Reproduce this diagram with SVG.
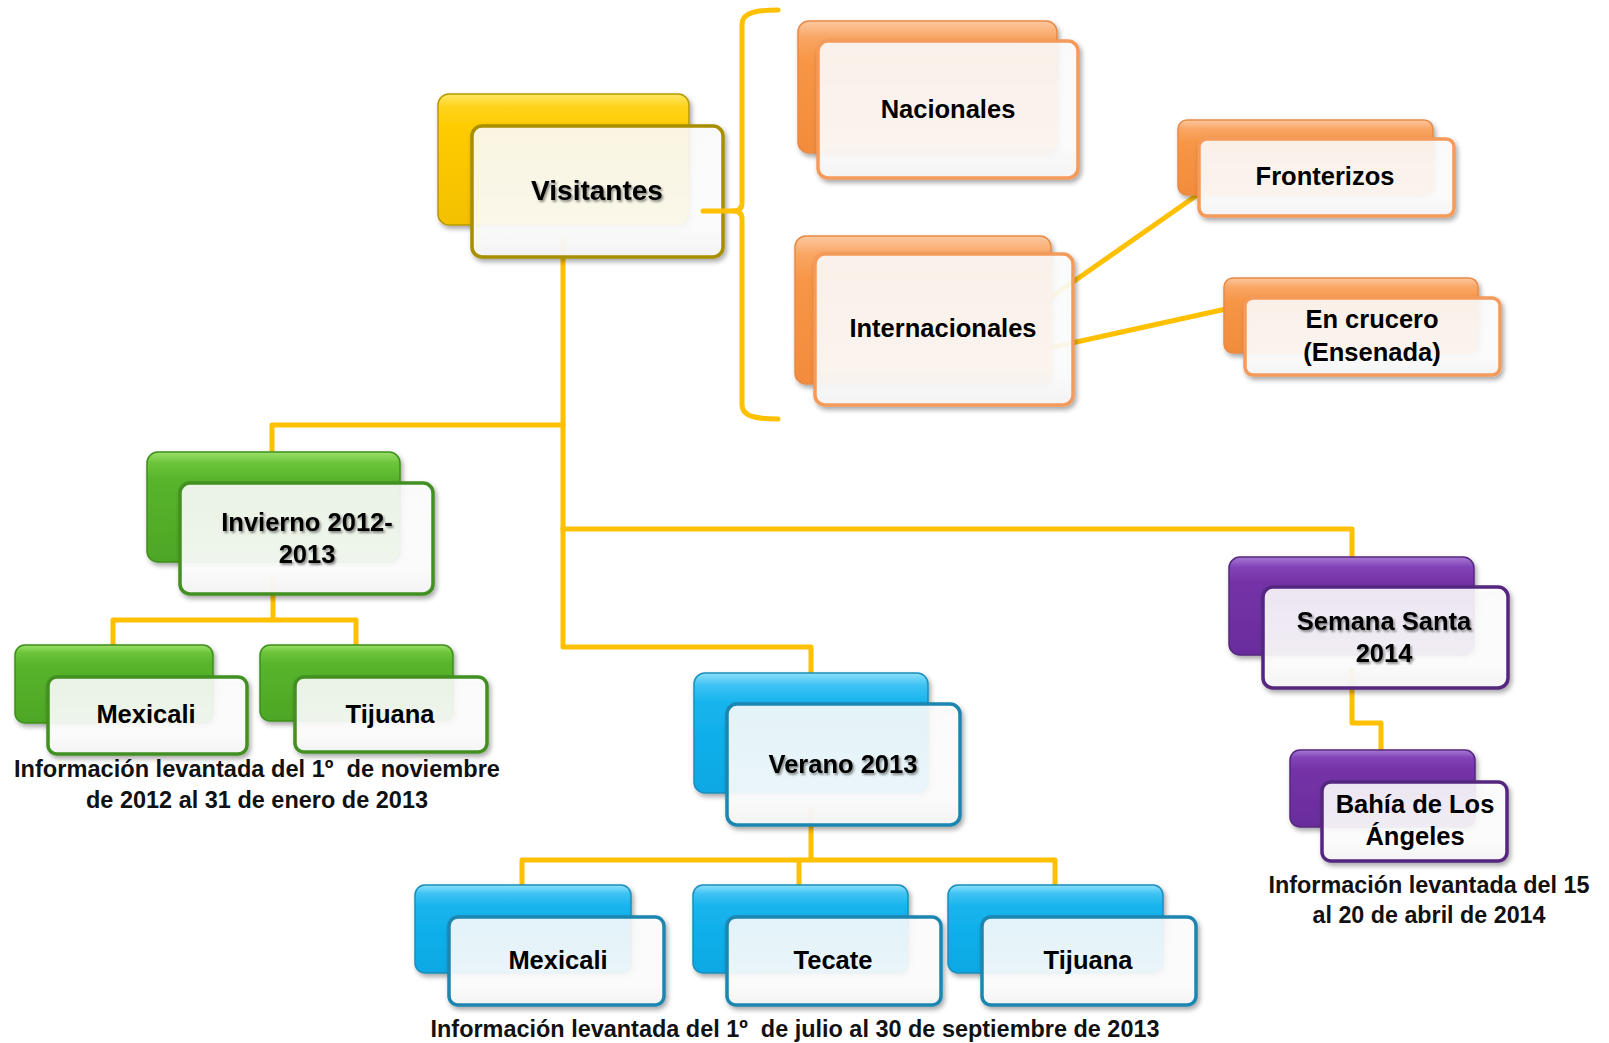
<svg xmlns="http://www.w3.org/2000/svg" width="1609" height="1043" viewBox="0 0 1609 1043">
<style>
.bk{stroke-width:1.5;filter:url(#sh)}
.fr{fill:url(#fw);stroke-width:3.5;filter:url(#sh)}
.lbl{font-family:"Liberation Sans",Arial,sans-serif;font-weight:bold;font-size:25.5px;text-anchor:middle;fill:#000}
.big{font-size:28px}
.glow{filter:url(#ts)}
.cap{font-family:"Liberation Sans",Arial,sans-serif;font-weight:bold;font-size:23.5px;text-anchor:middle;fill:#111;white-space:pre}
.con{fill:none;stroke:#FFC000;stroke-width:5;stroke-linejoin:round;stroke-linecap:round}
.gold .bk{fill:url(#gGold);stroke:#B89A00}
.gold .fr{stroke:#A88F00}
.orange .bk{fill:url(#gOr);stroke:#E88A45}
.orange .fr{stroke:#F49A5A}
.green .bk{fill:url(#gGr);stroke:#3D8F1E}
.green .fr{stroke:#438F22}
.blue .bk{fill:url(#gBl);stroke:#1A8EBB}
.blue .fr{stroke:#1C86B0}
.purple .bk{fill:url(#gPu);stroke:#55287E}
.purple .fr{stroke:#552680}
</style>
<defs>
<filter id="sh" x="-10%" y="-10%" width="125%" height="130%">
<feDropShadow dx="2" dy="3" stdDeviation="2.5" flood-color="#000" flood-opacity="0.35"/>
</filter>
<filter id="ts" x="-5%" y="-20%" width="115%" height="150%">
<feDropShadow dx="1.5" dy="2" stdDeviation="1.3" flood-color="#000" flood-opacity="0.45"/>
</filter>
<linearGradient id="fw" x1="0" y1="0" x2="0" y2="1">
<stop offset="0" stop-color="#fff" stop-opacity="0.86"/>
<stop offset="0.75" stop-color="#fff" stop-opacity="0.9"/>
<stop offset="1" stop-color="#f4f4f4" stop-opacity="0.97"/>
</linearGradient>
<linearGradient id="gGold" x1="0" y1="0" x2="0" y2="1">
<stop offset="0" stop-color="#FFE866"/><stop offset="0.1" stop-color="#FFD21A"/><stop offset="0.25" stop-color="#FFCC00"/><stop offset="1" stop-color="#F2C000"/>
</linearGradient>
<linearGradient id="gOr" x1="0" y1="0" x2="0" y2="1">
<stop offset="0" stop-color="#FCC89F"/><stop offset="0.12" stop-color="#F9A665"/><stop offset="0.3" stop-color="#F79646"/><stop offset="1" stop-color="#F28C3C"/>
</linearGradient>
<linearGradient id="gGr" x1="0" y1="0" x2="0" y2="1">
<stop offset="0" stop-color="#9BE06A"/><stop offset="0.1" stop-color="#6CC43A"/><stop offset="0.25" stop-color="#58B42C"/><stop offset="1" stop-color="#4EA625"/>
</linearGradient>
<linearGradient id="gBl" x1="0" y1="0" x2="0" y2="1">
<stop offset="0" stop-color="#8EE0FA"/><stop offset="0.1" stop-color="#3EC2F3"/><stop offset="0.25" stop-color="#15B4EE"/><stop offset="1" stop-color="#08A8E4"/>
</linearGradient>
<linearGradient id="gPu" x1="0" y1="0" x2="0" y2="1">
<stop offset="0" stop-color="#A77AD4"/><stop offset="0.1" stop-color="#8244B8"/><stop offset="0.25" stop-color="#7433A8"/><stop offset="1" stop-color="#6A2C9C"/>
</linearGradient>
</defs>
<rect width="1609" height="1043" fill="#fff"/>

<g id="connectors">
<path class="con" d="M563,240 V647 H811 V673"/>
<path class="con" d="M563,425 H272 V452"/>
<path class="con" d="M563,529 H1352 V557"/>
<path class="con" d="M273,580 V620 M113,645 V620 H356 V645"/>
<path class="con" d="M811,810 V860 M522,885 V860 H1055 V885 M799,860 V885"/>
<path class="con" d="M1352,670 V723 H1381 V750"/>
<path class="con" d="M1040,305 L1200,193"/>
<path class="con" d="M1040,350 L1226,309"/>
</g>

<g id="n-visitantes" class="gold">
<rect class="bk" x="438" y="94" width="251" height="131" rx="11"/>
<rect class="fr" x="472" y="126" width="251" height="131" rx="10"/>
<text class="lbl big glow" x="597" y="200">Visitantes</text>
</g>

<g id="n-nacionales" class="orange">
<rect class="bk" x="798" y="21" width="259" height="132" rx="11"/>
<rect class="fr" x="818" y="41" width="260" height="137" rx="10"/>
<text class="lbl" x="948" y="118">Nacionales</text>
</g>

<g id="n-internacionales" class="orange">
<rect class="bk" x="795" y="236" width="256" height="148" rx="11"/>
<rect class="fr" x="815" y="254" width="258" height="151" rx="10"/>
<text class="lbl" x="943" y="337">Internacionales</text>
</g>

<g id="n-fronterizos" class="orange">
<rect class="bk" x="1178" y="120" width="255" height="75" rx="9"/>
<rect class="fr" x="1199" y="139" width="255" height="77" rx="8"/>
<text class="lbl" x="1325" y="185">Fronterizos</text>
</g>

<g id="n-crucero" class="orange">
<rect class="bk" x="1224" y="278" width="254" height="75" rx="9"/>
<rect class="fr" x="1245" y="298" width="255" height="77" rx="8"/>
<text class="lbl" x="1372" y="328">En crucero</text>
<text class="lbl" x="1372" y="361">(Ensenada)</text>
</g>

<g id="n-invierno" class="green">
<rect class="bk" x="147" y="452" width="253" height="110" rx="11"/>
<rect class="fr" x="180" y="483" width="253" height="111" rx="10"/>
<text class="lbl glow" x="307" y="531">Invierno 2012-</text>
<text class="lbl glow" x="307" y="563">2013</text>
</g>

<g id="n-mexicali-inv" class="green">
<rect class="bk" x="15" y="645" width="198" height="78" rx="10"/>
<rect class="fr" x="48" y="677" width="199" height="77" rx="9"/>
<text class="lbl" x="146" y="723">Mexicali</text>
</g>

<g id="n-tijuana-inv" class="green">
<rect class="bk" x="260" y="645" width="193" height="76" rx="10"/>
<rect class="fr" x="295" y="677" width="192" height="75" rx="9"/>
<text class="lbl" x="390" y="723">Tijuana</text>
</g>

<g id="n-verano" class="blue">
<rect class="bk" x="694" y="673" width="234" height="120" rx="11"/>
<rect class="fr" x="727" y="704" width="233" height="121" rx="10"/>
<text class="lbl glow" x="843" y="773">Verano 2013</text>
</g>

<g id="n-mexicali-ver" class="blue">
<rect class="bk" x="415" y="885" width="216" height="88" rx="10"/>
<rect class="fr" x="449" y="917" width="215" height="88" rx="9"/>
<text class="lbl" x="558" y="969">Mexicali</text>
</g>

<g id="n-tecate" class="blue">
<rect class="bk" x="693" y="885" width="215" height="88" rx="10"/>
<rect class="fr" x="727" y="917" width="214" height="88" rx="9"/>
<text class="lbl" x="833" y="969">Tecate</text>
</g>

<g id="n-tijuana-ver" class="blue">
<rect class="bk" x="948" y="885" width="215" height="88" rx="10"/>
<rect class="fr" x="982" y="917" width="214" height="88" rx="9"/>
<text class="lbl" x="1088" y="969">Tijuana</text>
</g>

<g id="n-semana" class="purple">
<rect class="bk" x="1229" y="557" width="245" height="98" rx="11"/>
<rect class="fr" x="1263" y="587" width="245" height="101" rx="10"/>
<text class="lbl glow" x="1384" y="630">Semana Santa</text>
<text class="lbl glow" x="1384" y="662">2014</text>
</g>

<g id="n-bahia" class="purple">
<rect class="bk" x="1290" y="750" width="185" height="77" rx="10"/>
<rect class="fr" x="1322" y="782" width="185" height="79" rx="9"/>
<text class="lbl" x="1415" y="813">Bahía de Los</text>
<text class="lbl" x="1415" y="845">Ángeles</text>
</g>

<g id="bracket">
<path class="con" d="M703,211 H735"/>
<path class="con" d="M778,10 C758,10 742,12 742,24 V203 Q742,211 733,211 Q742,211 742,219 V405 C742,417 758,419 778,419"/>
</g>

<g id="captions">
<text class="cap" x="257" y="777" xml:space="preserve" textLength="486" lengthAdjust="spacingAndGlyphs">Información levantada del 1º  de noviembre</text>
<text class="cap" x="257" y="808" textLength="342" lengthAdjust="spacingAndGlyphs">de 2012 al 31 de enero de 2013</text>
<text class="cap" x="795" y="1037" xml:space="preserve" textLength="729" lengthAdjust="spacingAndGlyphs">Información levantada del 1º  de julio al 30 de septiembre de 2013</text>
<text class="cap" x="1429" y="893" textLength="321" lengthAdjust="spacingAndGlyphs">Información levantada del 15</text>
<text class="cap" x="1429" y="923" textLength="233" lengthAdjust="spacingAndGlyphs">al 20 de abril de 2014</text>
</g>
</svg>
